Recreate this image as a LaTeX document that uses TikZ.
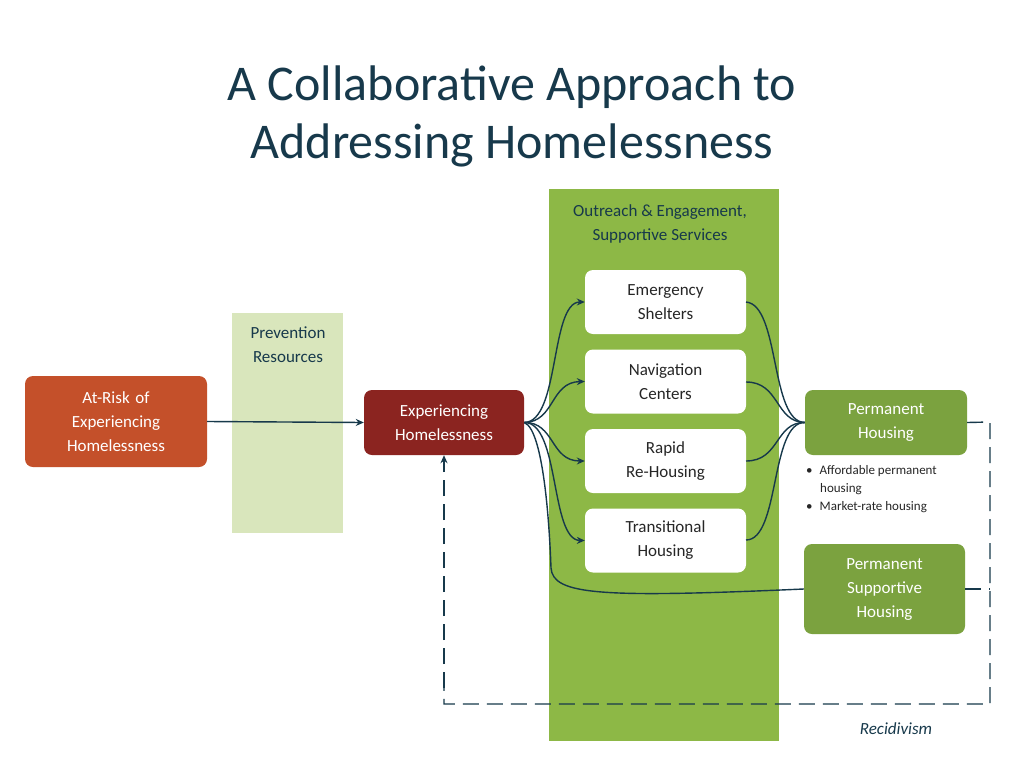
\documentclass[tikz,border=0pt]{standalone}
\usepackage{fontspec}
\setmainfont{Carlito}
\usetikzlibrary{arrows.meta}
\definecolor{titlec}{HTML}{17394B}
\definecolor{linec}{HTML}{17394B}
\definecolor{colg}{HTML}{8DB846}
\definecolor{prevg}{HTML}{D9E6BC}
\definecolor{riskc}{HTML}{C4502A}
\definecolor{expc}{HTML}{8B2420}
\definecolor{phc}{HTML}{7BA23F}
\begin{document}
\begin{tikzpicture}[x=1pt,y=-1pt,
  box/.style={rounded corners=8pt,minimum height=64pt,text width=150pt,align=center,font=\fontsize{17}{24}\selectfont,inner sep=2pt},
  wbox/.style={box,fill=white,text=black!85,minimum width=161pt,text width=155pt},
  cbox/.style={box,text=white},
  conn/.style={draw=linec,line width=1.4pt},
  arr/.style={conn,-{Stealth[length=8pt,width=7pt]}}]
\useasboundingbox (0,0) rectangle (1024,768);
\fill[white] (0,0) rectangle (1024,768);
\node[text=titlec,align=center,font=\fontsize{50}{58}\selectfont] (title) at (512,116) {A Collaborative Approach to\\Addressing Homelessness};
\fill[colg] (549,189) rectangle (779,741);
\fill[prevg] (232,313) rectangle (343,533);
\node[align=center,text=titlec,font=\fontsize{17}{24}\selectfont] (outr) at (660,224) {Outreach \& Engagement,\\Supportive Services};
\node[align=center,text=titlec,font=\fontsize{17}{24}\selectfont] (prev) at (288,345) {Prevention\\Resources};
\node[cbox,fill=riskc,minimum width=182pt,minimum height=91pt,text width=170pt] (risk) at (116,421.5) {At-Risk of\\Experiencing\\Homelessness};
\node[cbox,fill=expc,minimum width=160pt,minimum height=65pt] (exp) at (444,422.5) {Experiencing\\Homelessness};
\node[wbox] (es) at (665.5,302) {Emergency\\Shelters};
\node[wbox] (nc) at (665.5,381.5) {Navigation\\Centers};
\node[wbox] (rr) at (665.5,461) {Rapid\\Re-Housing};
\node[wbox] (th) at (665.5,540.5) {Transitional\\Housing};
\node[cbox,fill=phc,minimum width=162pt,minimum height=65pt] (ph) at (886,422.5) {Permanent\\Housing};
\node[cbox,fill=phc,minimum width=161pt,minimum height=90pt] (psh) at (884.5,589) {Permanent\\Supportive\\Housing};
\node[anchor=north west,align=left,text=black!85,font=\fontsize{13}{18}\selectfont,inner sep=0pt] (list) at (806,465)
 {\textbullet\hspace{7pt}Affordable permanent\\\hspace{14pt}housing\\\textbullet\hspace{7pt}Market-rate housing};
\node[font=\itshape\fontsize{17}{20}\selectfont,text=titlec] (rec) at (896,729) {Recidivism};
\coordinate (s) at (exp.east);
\draw[arr] (risk.east) -- (exp.west);
\draw[arr] (s) .. controls (560,422) and (550,302) .. (es.west);
\draw[arr] (s) .. controls (555,422) and (550,382) .. (nc.west);
\draw[arr] (s) .. controls (555,422) and (550,461) .. (rr.west);
\draw[arr] (s) .. controls (560,422) and (550,540) .. (th.west);
\coordinate (t) at (ph.west);
\draw[conn] (746,302) .. controls (780,305) and (770,422) .. (t);
\draw[conn] (746,382) .. controls (780,382) and (775,422) .. (t);
\draw[conn] (746,461) .. controls (780,461) and (775,422) .. (t);
\draw[conn] (746,540) .. controls (780,540) and (770,422) .. (t);
\draw[conn] (s) .. controls (545,430) and (550,540) .. (551,568) .. controls (553,595) and (600,598) .. (psh.west);
\coordinate (c1) at (990,422);
\coordinate (c2) at (990,704);
\coordinate (c3) at (444,704);
\draw[conn,dash pattern=on 16pt off 8pt] (ph.east) -- (c1) -- (c2) -- (c3) -- ++(0,-20);
\draw[arr,dash pattern=on 16pt off 8pt] (c3) ++(0,-16) -- (exp.south);
\draw[conn,dash pattern=on 16pt off 8pt] (psh.east) -- (990,589);
\end{tikzpicture}
\end{document}
